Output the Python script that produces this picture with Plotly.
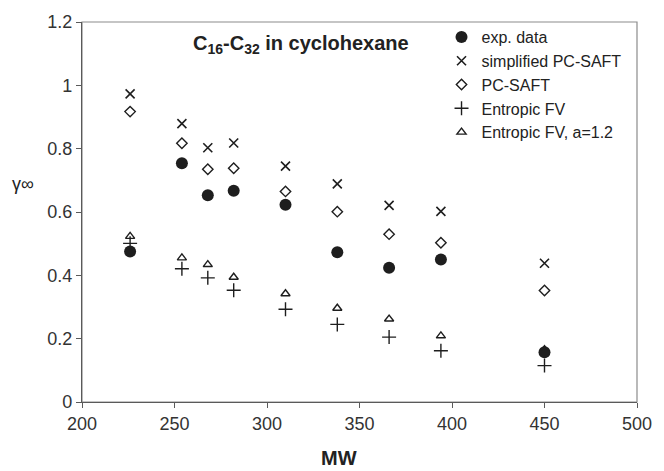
import plotly.graph_objects as go

# Data
mw = [226, 254, 268, 282, 310, 338, 366, 394, 450]
exp_data = [0.475, 0.754, 0.653, 0.667, 0.623, 0.473, 0.424, 0.450, 0.157]
simplified_pcsaft = [0.973, 0.879, 0.803, 0.818, 0.745, 0.689, 0.621, 0.602, 0.438]
pcsaft = [0.917, 0.817, 0.735, 0.738, 0.665, 0.601, 0.530, 0.503, 0.352]
entropic_fv = [0.501, 0.421, 0.392, 0.353, 0.293, 0.245, 0.205, 0.162, 0.115]
entropic_fv_a12 = [0.523, 0.455, 0.434, 0.394, 0.342, 0.296, 0.262, 0.209, 0.165]

x_ticks = [200, 250, 300, 350, 400, 450, 500]
y_ticks = [0, 0.2, 0.4, 0.6, 0.8, 1.0, 1.2]
y_tick_text = ["0", "0.2", "0.4", "0.6", "0.8", "1", "1.2"]

W, H = 664, 471
L, R, T, B = 82, 17, 19, 69
PW, PH = W - L - R, H - T - B


def px(x):
    return (x - L) / PW


def py(y):
    return (H - B - y) / PH


FONT = "Liberation Sans, Arial, sans-serif"
INK = "#1e1e1e"

fig = go.Figure()

series = [
    ("exp. data", exp_data, dict(symbol="circle", size=12, color=INK)),
    ("simplified PC-SAFT", simplified_pcsaft,
     dict(symbol="x-thin-open", size=9, color=INK, line=dict(width=1.6, color=INK))),
    ("PC-SAFT", pcsaft,
     dict(symbol="diamond-open", size=8, color=INK, line=dict(width=1.4, color=INK))),
    ("Entropic FV", entropic_fv,
     dict(symbol="cross-thin-open", size=10, color=INK, line=dict(width=1.4, color=INK))),
    ("Entropic FV, a=1.2", entropic_fv_a12,
     dict(symbol="triangle-up-open", size=8, color=INK, line=dict(width=1.4, color=INK))),
]
for name, ys, mk in series:
    fig.add_trace(go.Scatter(x=mw, y=ys, mode="markers", name=name, marker=mk))

axis_common = dict(
    showgrid=False, zeroline=False, showline=True, linecolor="#5a5a5a", linewidth=1.2,
    ticks="outside", ticklen=5, tickcolor="#5a5a5a", tickwidth=1.2,
    tickfont=dict(family=FONT, size=18, color="#333333"),
)

fig.update_layout(
    width=W, height=H,
    margin=dict(l=L, r=R, t=T, b=B),
    paper_bgcolor="white", plot_bgcolor="white",
    xaxis=dict(range=[200, 500], tickvals=x_ticks, ticktext=[str(v) for v in x_ticks], **axis_common),
    yaxis=dict(range=[0, 1.2], tickvals=y_ticks, ticktext=y_tick_text, **axis_common),
    showlegend=True,
    legend=dict(
        x=px(448), y=py(17), xanchor="left", yanchor="top",
        font=dict(family=FONT, size=16, color="#222222"),
        bgcolor="rgba(0,0,0,0)", borderwidth=0, tracegroupgap=0,
        itemsizing="trace",
    ),
    shapes=[dict(type="rect", xref="paper", yref="paper", x0=0, y0=0, x1=1, y1=1,
                 line=dict(color="#8c8c8c", width=1.2), layer="below")],
    annotations=[
        dict(text="<b>C<sub>16</sub>-C<sub>32</sub> in cyclohexane</b>", x=px(305), y=py(42),
             xref="paper", yref="paper", showarrow=False, xanchor="center", yanchor="middle",
             font=dict(family=FONT, size=20, color="#222222")),
        dict(text="<b>MW</b>", x=px(344), y=py(458), xref="paper", yref="paper", showarrow=False,
             xanchor="center", yanchor="middle", font=dict(family=FONT, size=20, color="#222222")),
        dict(text="γ∞", x=px(22), y=py(182), xref="paper", yref="paper", showarrow=False,
             xanchor="center", yanchor="middle", font=dict(family=FONT, size=18, color="#222222")),
    ],
)

fig.write_html("out.html")
